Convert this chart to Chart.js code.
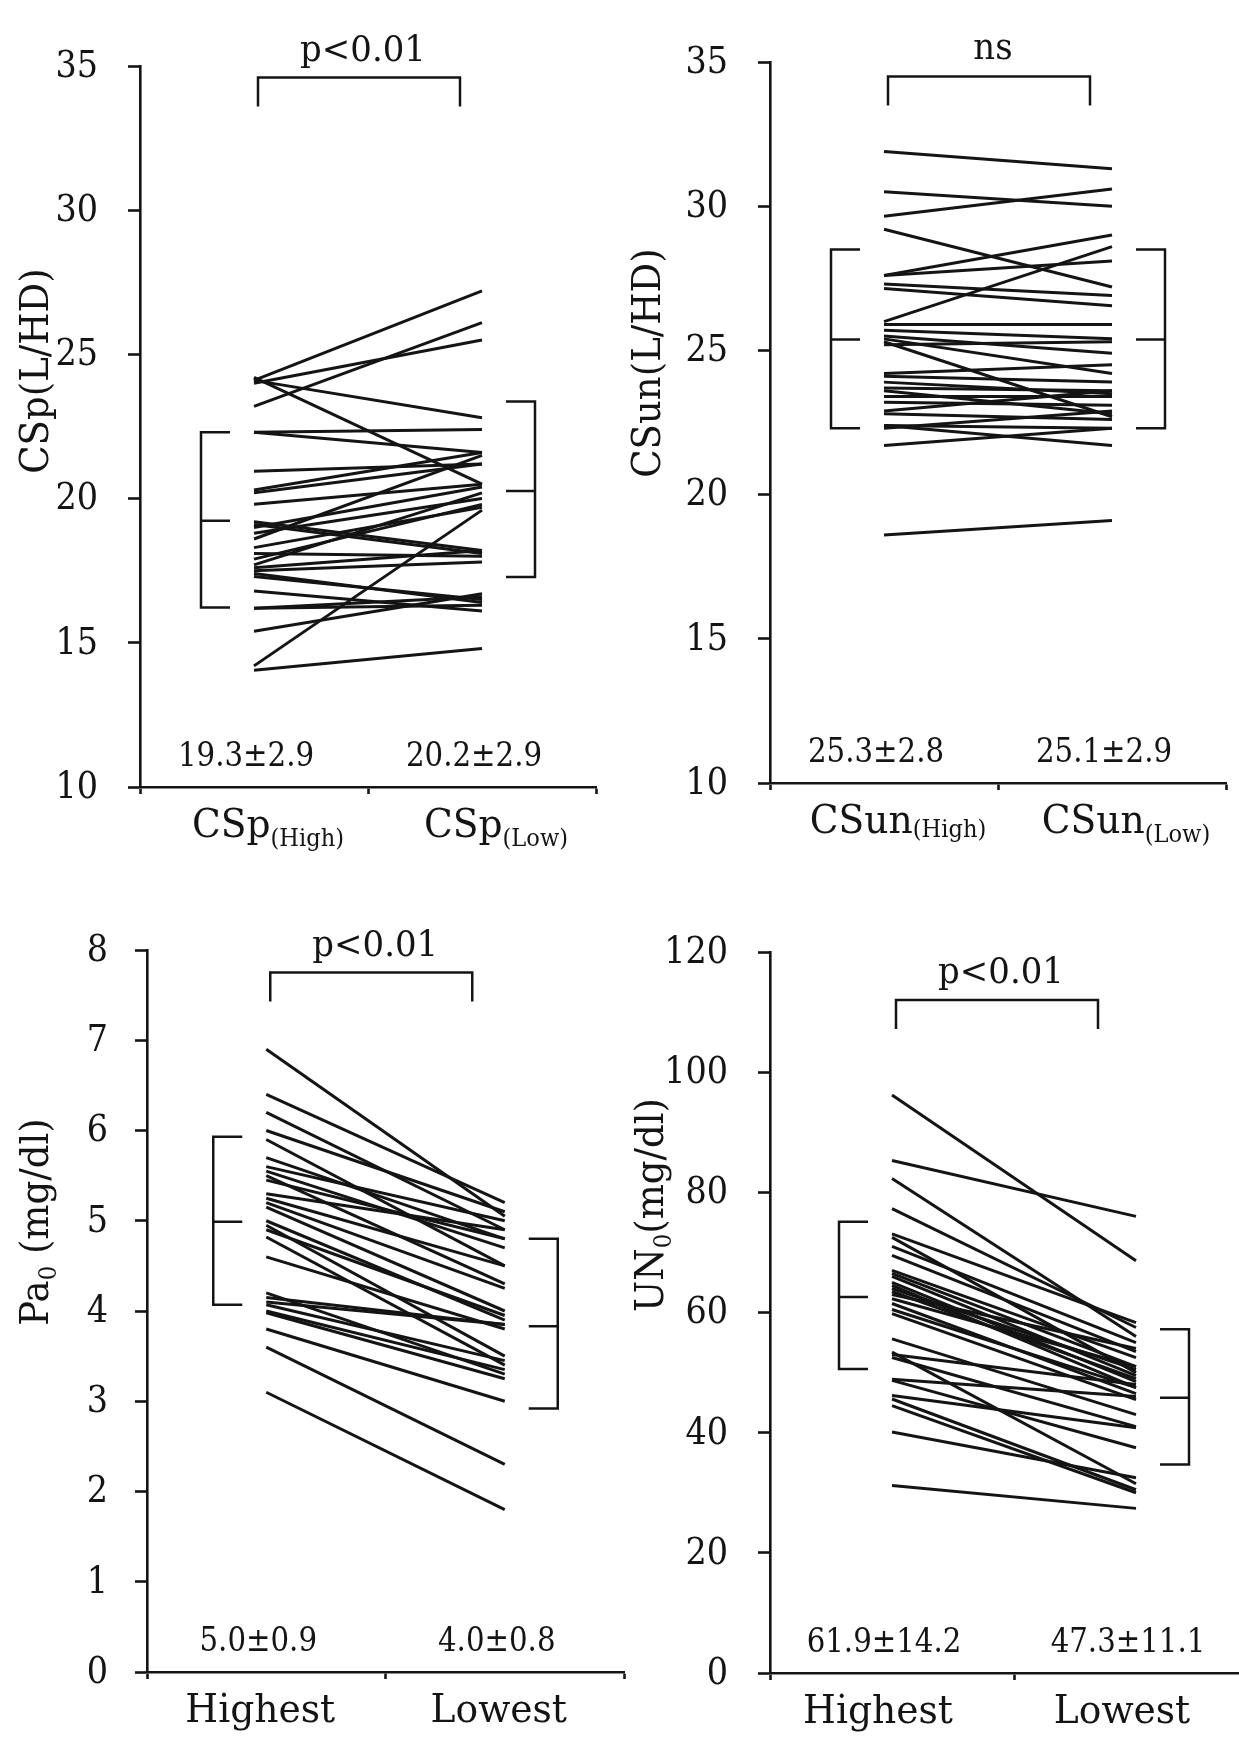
<!DOCTYPE html>
<html>
<head>
<meta charset="utf-8">
<script src="https://cdn.jsdelivr.net/npm/chart.js@4.4.1/dist/chart.umd.min.js"></script>
<style>
  html, body { margin: 0; padding: 0; background: #fff; }
  body { position: relative; width: 1239px; height: 1737px; overflow: hidden; }
  canvas { position: absolute; }
</style>
</head>
<body>
<canvas id="cspChart" width="620" height="870" style="left:0px;top:0px"></canvas>
<canvas id="csunChart" width="619" height="870" style="left:620px;top:0px"></canvas>
<canvas id="paChart" width="640" height="867" style="left:0px;top:870px"></canvas>
<canvas id="unChart" width="660" height="867" style="left:620px;top:870px"></canvas>
<script>
const INK = "#141414";
const FONT = '"DejaVu Serif"';
const groups = ["High", "Low"];

// CSp (L/HD), one pair per patient
const cspHigh = [24.1, 24.0, 23.2, 24.1, 24.2, 22.3, 22.3, 20.95, 20.3, 20.2, 19.8, 19.2, 19.0, 18.8,
                 18.3, 18.1, 17.9, 17.7, 17.6, 17.5, 17.4, 16.8, 16.2, 16.2, 15.4, 14.2, 14.05, 18.6, 17.3, 19.1];
const cspLow  = [27.2, 25.5, 26.1, 22.8, 20.5, 22.4, 21.6, 21.2, 21.6, 21.2, 20.5, 18.2, 20.4, 20.0,
                 19.7, 18.0, 19.8, 20.2, 18.2, 17.8, 16.4, 16.1, 16.3, 16.6, 16.7, 19.6, 14.8, 21.5, 16.5, 18.1];
const cspStats = ["19.3±2.9", "20.2±2.9"];
const cspBars = [[16.22, 19.23, 22.3], [17.28, 20.26, 23.37]];

// CSun (L/HD)
const csunHigh = [31.9, 30.5, 29.65, 29.2, 27.6, 27.6, 27.3, 27.15, 26.0, 25.9, 25.7, 25.5, 25.4, 25.3, 25.2,
                  24.2, 24.1, 23.9, 23.7, 23.6, 23.4, 23.2, 22.9, 22.8, 22.4, 22.3, 21.7, 22.4, 18.6];
const csunLow  = [31.3, 30.0, 30.6, 27.2, 29.0, 28.1, 26.9, 26.55, 28.6, 25.9, 25.4, 24.9, 24.2, 22.7, 25.3,
                  24.5, 23.9, 23.5, 23.6, 22.8, 23.4, 23.1, 23.6, 22.6, 22.3, 22.9, 22.3, 21.7, 19.1];
const csunStats = ["25.3±2.8", "25.1±2.9"];
const csunBars = [[22.3, 25.38, 28.5], [22.3, 25.38, 28.5]];

// Pa0 (mg/dl)
const paHigh = [6.9, 6.4, 6.2, 6.0, 5.9, 5.7, 5.6, 5.55, 5.5, 5.45, 5.3, 5.25, 5.2, 5.15, 5.0, 4.95, 4.9,
                4.82, 4.6, 4.2, 4.15, 4.1, 4.07, 4.0, 3.98, 3.8, 3.6, 3.1];
const paLow  = [5.05, 5.2, 4.9, 5.1, 4.5, 4.8, 5.0, 4.7, 4.3, 4.8, 4.9, 4.5, 4.25, 4.0, 3.9, 3.5, 3.95,
                3.4, 3.8, 3.3, 3.85, 3.85, 3.45, 3.35, 3.25, 3.0, 2.3, 1.8];
const paStats = ["5.0±0.9", "4.0±0.8"];
const paBars = [[4.07, 4.99, 5.93], [2.92, 3.83, 4.80]];

// UN0 (mg/dl)
const unHigh = [96.2, 85.3, 82.3, 77.3, 73.1, 72.5, 71, 69.5, 67, 66, 65, 64.5, 63.5, 63, 62.3, 61.5, 60.5,
                59.8, 55.6, 53.4, 53, 52.5, 48.9, 48.7, 46.2, 45.6, 44.5, 40.1, 31.2, 66.5, 64];
const unLow  = [68.6, 76.0, 56.0, 57.5, 58.3, 50.0, 55, 53.5, 52.5, 49.5, 48.5, 47.5, 49, 54, 51, 46.5, 47.5,
                45.5, 43, 31.5, 48, 41, 46, 37.5, 40.8, 30.5, 30, 32.5, 27.4, 51, 50.5];
const unStats = ["61.9±14.2", "47.3±11.1"];
const unBars = [[50.6, 62.6, 75.1], [34.7, 45.8, 57.2]];

// text pieces: [text, size, dy]; sq squeezes glyphs horizontally
function drawRich(ctx, parts, x, y, sq) {
  sq = sq || 1;
  let w = 0;
  parts.forEach(p => { ctx.font = p[1] + "px " + FONT; w += ctx.measureText(p[0]).width * sq; });
  let cx = x - w / 2;
  parts.forEach(p => {
    ctx.font = p[1] + "px " + FONT;
    ctx.save();
    ctx.translate(cx, y + p[2]);
    ctx.scale(sq, 1);
    ctx.fillText(p[0], 0, 0);
    ctx.restore();
    cx += ctx.measureText(p[0]).width * sq;
  });
}

function drawBar(ctx, xv, xt, vals, y) {
  const lo = y.getPixelForValue(vals[0]), mid = y.getPixelForValue(vals[1]), hi = y.getPixelForValue(vals[2]);
  ctx.beginPath();
  ctx.moveTo(xt, hi); ctx.lineTo(xv, hi); ctx.lineTo(xv, lo); ctx.lineTo(xt, lo);
  ctx.moveTo(xv, mid); ctx.lineTo(xt, mid);
  ctx.stroke();
}

const annotate = {
  id: "annotate",
  afterDraw(chart, args, o) {
    const ctx = chart.ctx, x = chart.scales.x, y = chart.scales.y, area = chart.chartArea;
    const c0 = x.getPixelForValue(0), c1 = x.getPixelForValue(1);
    ctx.save();
    ctx.strokeStyle = INK; ctx.fillStyle = INK; ctx.lineWidth = 2.5;
    ctx.lineJoin = "miter"; ctx.lineCap = "butt";

    // y tick labels
    ctx.textAlign = "right"; ctx.textBaseline = "middle";
    ctx.font = "38px " + FONT;
    y.ticks.forEach(t => {
      ctx.save();
      ctx.translate(area.left - o.tickGap, y.getPixelForValue(t.value) + 1);
      ctx.scale(0.88, 1);
      ctx.fillText(String(t.value), 0, 0);
      ctx.restore();
    });
    ctx.textAlign = "left"; ctx.textBaseline = "alphabetic";

    // mean +- SD brackets
    drawBar(ctx, c0 - 53, c0 - 24, o.bars[0], y);
    drawBar(ctx, c1 + 53, c1 + 24, o.bars[1], y);

    // significance bracket
    const sx0 = c0 + 4, sx1 = sx0 + 202, sy = y.getPixelForValue(o.sigY);
    ctx.beginPath();
    ctx.moveTo(sx0, sy + 29); ctx.lineTo(sx0, sy); ctx.lineTo(sx1, sy); ctx.lineTo(sx1, sy + 29);
    ctx.stroke();
    drawRich(ctx, [[o.sig, 35, 0]], (sx0 + sx1) / 2 + 4, sy - 17, 0.97);

    // mean text
    drawRich(ctx, [[o.stats[0], 34, 0]], c0 - 8, area.bottom - 21, 0.86);
    drawRich(ctx, [[o.stats[1], 34, 0]], c1 - 8, area.bottom - 21, 0.86);

    // category labels
    o.xLabels.forEach((lab, i) => {
      const cx = (i === 0 ? c0 : c1) + o.labShift;
      drawRich(ctx, lab, cx, area.bottom + 50, 0.94);
    });

    // axis title
    ctx.translate(o.titleX, o.titleY);
    ctx.rotate(-Math.PI / 2);
    drawRich(ctx, o.title, 0, 0, 0.95);
    ctx.restore();
  }
};

function makeChart(id, high, low, yMin, yMax, step, pad, note) {
  const datasets = high.map((h, i) => ({
    data: [h, low[i]],
    borderColor: INK,
    borderWidth: 3,
    pointRadius: 0,
    fill: false,
    tension: 0
  }));
  return new Chart(document.getElementById(id), {
    type: "line",
    data: { labels: groups, datasets: datasets },
    options: {
      responsive: false,
      animation: false,
      devicePixelRatio: 1,
      layout: { padding: pad },
      plugins: { legend: { display: false }, tooltip: { enabled: false }, annotate: note },
      scales: {
        x: {
          type: "category",
          offset: true,
          afterFit: s => { s.height = 20; },
          border: { color: INK, width: 2.6 },
          grid: { offset: true, drawOnChartArea: false, tickLength: 7, tickColor: INK, tickWidth: 2.6 },
          ticks: { display: false }
        },
        y: {
          min: yMin,
          max: yMax,
          afterFit: s => { s.width = 100; },
          border: { color: INK, width: 2.6 },
          grid: { drawOnChartArea: false, tickLength: 12, tickColor: INK, tickWidth: 2.6 },
          ticks: { stepSize: step, autoSkip: false, display: false }
        }
      }
    },
    plugins: [annotate]
  });
}

makeChart("cspChart", cspHigh, cspLow, 10, 35, 5,
  { left: 40, top: 66, right: 24, bottom: 63 },
  { bars: cspBars, stats: cspStats, sig: "p<0.01", sigY: 34.6, labShift: 14, tickGap: 42,
    xLabels: [[["CSp", 40, 0], ["(High)", 24, 9]], [["CSp", 40, 0], ["(Low)", 24, 9]]],
    title: [["CSp(L/HD)", 39, 0]], titleX: 48, titleY: 371 });

makeChart("csunChart", csunHigh, csunLow, 10, 35, 5,
  { left: 50, top: 62, right: 13, bottom: 67 },
  { bars: csunBars, stats: csunStats, sig: "ns", sigY: 34.5, labShift: 14, tickGap: 42,
    xLabels: [[["CSun", 40, 0], ["(High)", 24, 4]], [["CSun", 40, 0], ["(Low)", 24, 9]]],
    title: [["CSun(L/HD)", 39, 0]], titleX: 40, titleY: 363 });

makeChart("paChart", paHigh, paLow, 0, 8, 1,
  { left: 47, top: 80, right: 16, bottom: 45 },
  { bars: paBars, stats: paStats, sig: "p<0.01", sigY: 7.75, labShift: -6, tickGap: 39,
    xLabels: [[["Highest", 40, 0]], [["Lowest", 40, 0]]],
    title: [["Pa", 39, 0], ["0", 24, 8], [" (mg/dl)", 39, 0]], titleX: 48, titleY: 352 });

makeChart("unChart", unHigh, unLow, 0, 120, 20,
  { left: 50, top: 82, right: 22, bottom: 44 },
  { bars: unBars, stats: unStats, sig: "p<0.01", sigY: 112, labShift: -14, tickGap: 42,
    xLabels: [[["Highest", 40, 0]], [["Lowest", 40, 0]]],
    title: [["UN", 39, 0], ["0", 24, 8], ["(mg/dl)", 39, 0]], titleX: 43, titleY: 335 });
</script>
</body>
</html>
